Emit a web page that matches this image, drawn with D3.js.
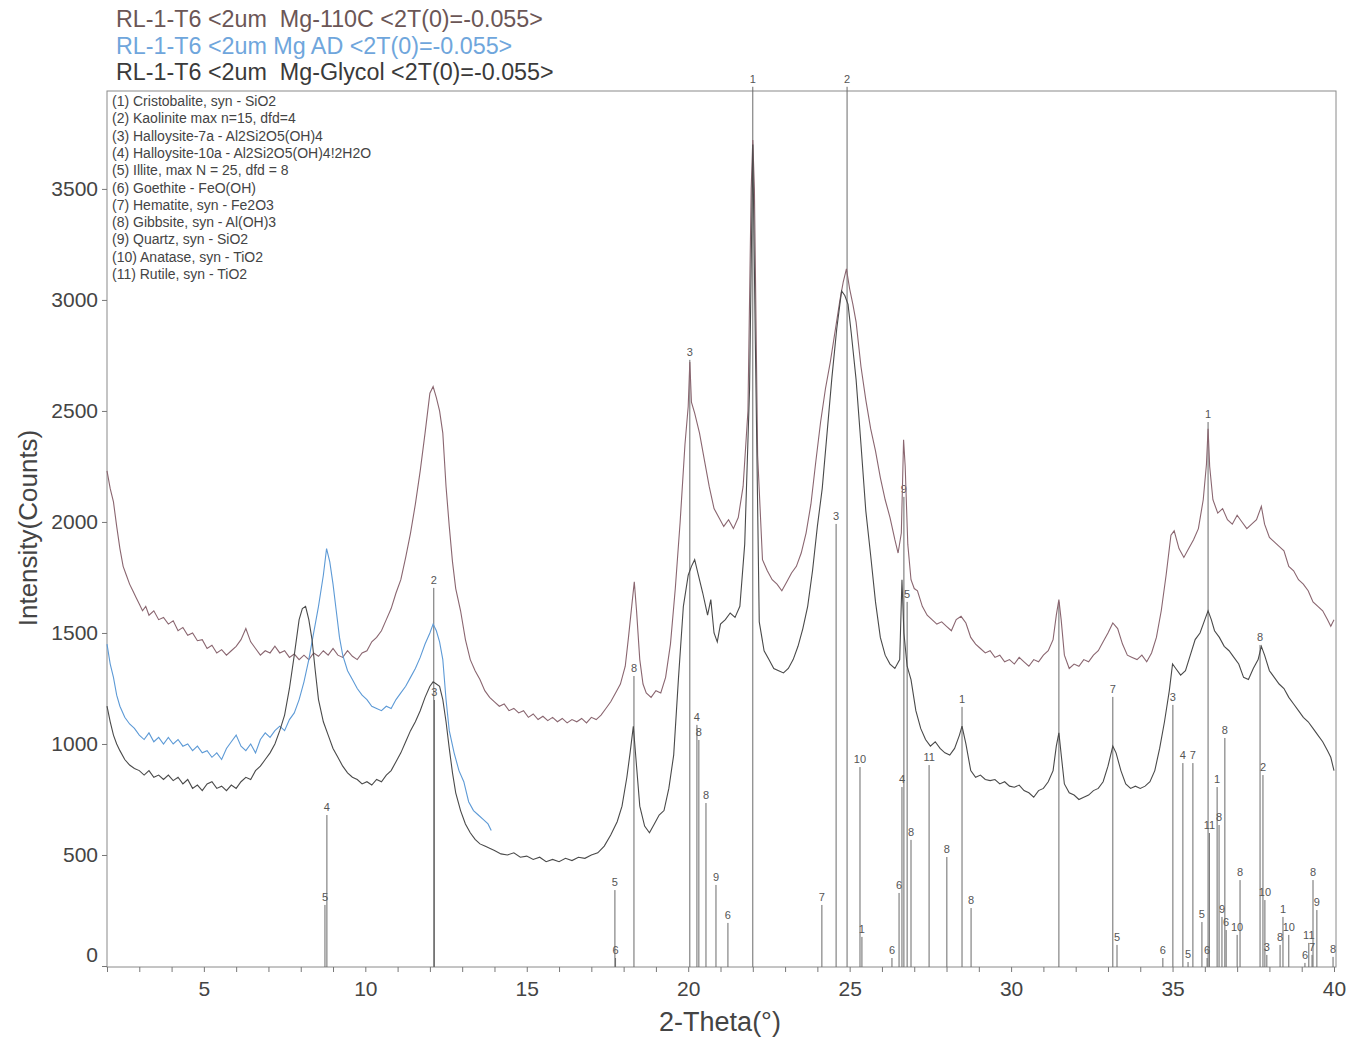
<!DOCTYPE html>
<html>
<head>
<meta charset="utf-8">
<script src="https://cdn.jsdelivr.net/npm/d3@7"></script>
<style>
  body { margin: 0; background: #fff; }
  text { font-family: "Liberation Sans", Arial, sans-serif; }
</style>
</head>
<body>
<svg id="chart" width="1350" height="1039"></svg>
<script>
// scan titles (one per pattern)
var titles = ["RL-1-T6 <2um  Mg-110C <2T(0)=-0.055>", "RL-1-T6 <2um Mg AD <2T(0)=-0.055>", "RL-1-T6 <2um  Mg-Glycol <2T(0)=-0.055>"];
var phases = ["(1) Cristobalite, syn - SiO2", "(2) Kaolinite max n=15, dfd=4", "(3) Halloysite-7a - Al2Si2O5(OH)4",
  "(4) Halloysite-10a - Al2Si2O5(OH)4!2H2O", "(5) Illite, max N = 25, dfd = 8", "(6) Goethite - FeO(OH)",
  "(7) Hematite, syn - Fe2O3", "(8) Gibbsite, syn - Al(OH)3", "(9) Quartz, syn - SiO2", "(10) Anatase, syn - TiO2", "(11) Rutile, syn - TiO2"];
var yTicks = [0, 500, 1000, 1500, 2000, 2500, 3000, 3500];
var xTicks = [5, 10, 15, 20, 25, 30, 35, 40];

// Mg-110C pattern (2theta, counts)
var heat = [[2.0,2230],[2.1,2150],[2.2,2090],[2.3,1980],[2.4,1880],[2.5,1800],[2.6,1760],[2.7,1720],[2.8,1690],[2.9,1660],
[3.0,1630],[3.1,1600],[3.2,1620],[3.3,1580],[3.45,1600],[3.6,1560],[3.75,1570],[3.9,1540],[4.05,1555],[4.2,1510],
[4.35,1525],[4.5,1490],[4.65,1500],[4.8,1465],[4.95,1470],[5.1,1430],[5.25,1445],[5.4,1410],[5.55,1425],[5.7,1400],
[5.85,1420],[6.0,1440],[6.15,1470],[6.3,1520],[6.45,1460],[6.6,1430],[6.75,1400],[6.9,1420],[7.05,1410],[7.2,1440],
[7.35,1410],[7.5,1420],[7.65,1390],[7.8,1405],[7.95,1380],[8.1,1400],[8.25,1380],[8.4,1410],[8.55,1395],[8.7,1420],
[8.85,1400],[9.0,1430],[9.15,1400],[9.3,1390],[9.45,1420],[9.6,1395],[9.75,1380],[9.9,1410],[10.05,1420],[10.2,1460],
[10.35,1480],[10.5,1510],[10.65,1560],[10.8,1610],[10.95,1680],[11.1,1740],[11.25,1840],[11.4,1950],[11.55,2080],[11.7,2230],
[11.85,2400],[12.0,2580],[12.1,2610],[12.2,2560],[12.3,2500],[12.4,2400],[12.5,2160],[12.6,1980],[12.7,1820],[12.8,1700],
[12.95,1600],[13.1,1470],[13.25,1380],[13.4,1330],[13.55,1290],[13.7,1240],[13.85,1210],[14.0,1190],[14.15,1170],[14.3,1180],
[14.45,1150],[14.6,1160],[14.75,1140],[14.9,1150],[15.05,1120],[15.2,1135],[15.35,1110],[15.5,1125],[15.65,1105],[15.8,1120],
[15.95,1100],[16.1,1115],[16.25,1095],[16.4,1110],[16.55,1100],[16.7,1115],[16.85,1095],[17.0,1120],[17.15,1110],[17.3,1130],
[17.45,1160],[17.6,1190],[17.75,1230],[17.9,1270],[18.05,1350],[18.15,1480],[18.25,1620],[18.33,1730],[18.4,1600],[18.5,1380],
[18.6,1270],[18.7,1230],[18.85,1210],[19.0,1240],[19.15,1230],[19.3,1300],[19.45,1450],[19.6,1700],[19.75,2000],[19.9,2350],
[20.0,2520],[20.05,2720],[20.1,2540],[20.2,2490],[20.35,2400],[20.5,2280],[20.65,2160],[20.8,2060],[20.95,2020],[21.1,1980],
[21.25,2010],[21.4,1970],[21.55,2020],[21.7,2160],[21.85,2500],[21.95,3500],[22.0,3720],[22.05,3500],[22.15,2300],[22.3,1830],
[22.45,1780],[22.6,1740],[22.75,1720],[22.9,1690],[23.05,1730],[23.2,1770],[23.35,1800],[23.5,1860],[23.65,1950],[23.8,2080],
[23.95,2270],[24.1,2450],[24.25,2600],[24.4,2720],[24.55,2860],[24.7,3000],[24.8,3080],[24.9,3140],[25.0,3050],[25.1,2980],
[25.2,2900],[25.35,2700],[25.5,2550],[25.65,2420],[25.8,2320],[25.95,2200],[26.1,2100],[26.25,2020],[26.4,1920],[26.5,1860],
[26.6,1950],[26.67,2370],[26.72,2250],[26.8,1900],[26.9,1740],[27.0,1700],[27.1,1690],[27.25,1620],[27.4,1580],[27.55,1560],
[27.7,1540],[27.85,1550],[28.0,1530],[28.15,1510],[28.3,1560],[28.45,1575],[28.6,1545],[28.75,1480],[28.9,1450],[29.05,1430],
[29.2,1410],[29.35,1420],[29.5,1390],[29.65,1400],[29.8,1370],[29.95,1380],[30.1,1360],[30.25,1390],[30.4,1370],[30.55,1350],
[30.7,1380],[30.85,1370],[31.0,1400],[31.15,1420],[31.3,1470],[31.4,1580],[31.48,1650],[31.55,1560],[31.65,1400],[31.8,1340],
[31.95,1360],[32.1,1350],[32.25,1380],[32.4,1370],[32.55,1400],[32.7,1420],[32.85,1460],[33.0,1500],[33.15,1545],[33.3,1520],
[33.45,1450],[33.6,1400],[33.75,1390],[33.9,1380],[34.05,1400],[34.2,1370],[34.35,1410],[34.5,1480],[34.65,1600],[34.8,1760],
[34.95,1940],[35.05,1960],[35.2,1880],[35.35,1840],[35.5,1880],[35.65,1920],[35.8,1970],[35.95,2100],[36.05,2260],[36.1,2420],
[36.15,2250],[36.25,2100],[36.4,2040],[36.55,2060],[36.7,2010],[36.85,1990],[37.0,2030],[37.15,2000],[37.3,1970],[37.45,1990],
[37.6,2010],[37.75,2070],[37.85,1990],[38.0,1930],[38.15,1910],[38.3,1890],[38.45,1870],[38.6,1800],[38.75,1780],[38.9,1740],
[39.05,1720],[39.2,1690],[39.35,1640],[39.5,1620],[39.65,1600],[39.8,1560],[39.9,1530],[40.0,1560]];

// Mg AD pattern, scanned only to ~14 deg
var airDry = [[2.0,1450],[2.1,1360],[2.2,1300],[2.3,1220],[2.4,1170],[2.55,1120],[2.7,1090],[2.85,1070],[3.0,1040],[3.15,1020],
[3.3,1050],[3.45,1010],[3.6,1030],[3.75,1000],[3.9,1030],[4.05,1000],[4.2,1020],[4.35,990],[4.5,1000],[4.65,970],
[4.8,990],[4.95,960],[5.1,970],[5.25,940],[5.4,960],[5.55,930],[5.7,980],[5.85,1010],[6.0,1040],[6.15,990],
[6.3,970],[6.45,1000],[6.6,960],[6.75,1020],[6.9,1050],[7.05,1030],[7.2,1060],[7.35,1080],[7.5,1060],[7.65,1110],
[7.8,1140],[7.95,1200],[8.1,1280],[8.25,1380],[8.4,1500],[8.55,1620],[8.7,1760],[8.8,1880],[8.9,1820],[9.0,1720],
[9.1,1600],[9.2,1480],[9.3,1400],[9.45,1330],[9.6,1290],[9.75,1250],[9.9,1220],[10.05,1200],[10.2,1170],[10.35,1160],
[10.5,1150],[10.65,1170],[10.8,1160],[10.95,1200],[11.1,1230],[11.25,1260],[11.4,1300],[11.55,1340],[11.7,1390],[11.85,1450],
[12.0,1500],[12.1,1540],[12.2,1510],[12.3,1460],[12.4,1380],[12.5,1200],[12.6,1060],[12.75,960],[12.9,880],[13.05,830],
[13.2,740],[13.35,700],[13.5,680],[13.65,660],[13.8,640],[13.9,610]];

// Mg-Glycol pattern
var glycol = [[2.0,1170],[2.1,1100],[2.2,1040],[2.3,1000],[2.4,970],[2.55,930],[2.7,905],[2.85,890],[3.0,880],[3.15,860],
[3.3,880],[3.45,850],[3.6,860],[3.75,840],[3.9,860],[4.05,835],[4.2,850],[4.35,820],[4.5,840],[4.65,800],
[4.8,815],[4.95,790],[5.1,820],[5.25,830],[5.4,800],[5.55,810],[5.7,790],[5.85,815],[6.0,800],[6.15,830],
[6.3,850],[6.45,840],[6.6,880],[6.75,900],[6.9,930],[7.05,960],[7.2,1000],[7.35,1060],[7.5,1130],[7.65,1250],
[7.8,1400],[7.95,1560],[8.05,1610],[8.15,1620],[8.25,1560],[8.35,1470],[8.45,1330],[8.55,1200],[8.7,1100],[8.85,1040],
[9.0,980],[9.15,940],[9.3,900],[9.45,870],[9.6,850],[9.75,840],[9.9,820],[10.05,830],[10.2,815],[10.35,840],
[10.5,830],[10.65,860],[10.8,880],[10.95,920],[11.1,960],[11.25,1010],[11.4,1060],[11.55,1100],[11.7,1150],[11.85,1210],
[12.0,1260],[12.1,1280],[12.2,1270],[12.3,1260],[12.4,1200],[12.5,1100],[12.6,980],[12.7,870],[12.8,780],[12.95,700],
[13.1,640],[13.25,600],[13.4,570],[13.55,550],[13.7,540],[13.85,530],[14.0,520],[14.2,505],[14.4,500],[14.6,510],
[14.8,490],[15.0,495],[15.2,480],[15.4,490],[15.6,470],[15.8,480],[16.0,470],[16.2,485],[16.4,475],[16.6,490],
[16.8,485],[17.0,500],[17.2,510],[17.4,540],[17.6,590],[17.8,650],[17.95,720],[18.1,850],[18.2,960],[18.3,1080],
[18.4,900],[18.5,720],[18.65,630],[18.8,600],[18.95,640],[19.1,680],[19.25,700],[19.4,800],[19.55,950],[19.7,1300],
[19.85,1620],[20.0,1760],[20.1,1800],[20.2,1830],[20.3,1770],[20.45,1680],[20.6,1580],[20.7,1650],[20.8,1500],[20.9,1460],
[21.0,1540],[21.15,1560],[21.3,1590],[21.45,1570],[21.6,1620],[21.75,1900],[21.9,2600],[22.0,3700],[22.08,2800],[22.2,1550],
[22.35,1420],[22.5,1380],[22.65,1340],[22.8,1330],[22.95,1320],[23.1,1340],[23.25,1380],[23.4,1440],[23.55,1520],[23.7,1620],
[23.85,1780],[24.0,1980],[24.15,2150],[24.3,2400],[24.45,2650],[24.6,2870],[24.75,3040],[24.85,3020],[24.95,2980],[25.05,2850],
[25.2,2640],[25.35,2350],[25.5,2050],[25.65,1850],[25.8,1640],[25.95,1480],[26.1,1400],[26.25,1360],[26.4,1340],[26.55,1380],
[26.62,1740],[26.68,1500],[26.78,1350],[26.9,1290],[27.05,1150],[27.2,1070],[27.35,1020],[27.5,990],[27.65,1010],[27.8,980],
[27.95,960],[28.1,950],[28.25,980],[28.4,1040],[28.48,1080],[28.6,1000],[28.75,880],[28.9,850],[29.05,860],[29.2,840],
[29.35,835],[29.5,840],[29.65,820],[29.8,830],[29.95,810],[30.1,805],[30.25,815],[30.4,790],[30.55,780],[30.7,760],
[30.85,790],[31.0,800],[31.15,830],[31.3,880],[31.4,990],[31.48,1050],[31.56,940],[31.65,820],[31.8,780],[31.95,770],
[32.1,750],[32.25,760],[32.4,770],[32.55,790],[32.7,800],[32.85,830],[33.0,900],[33.15,990],[33.25,960],[33.4,880],
[33.55,820],[33.7,800],[33.85,810],[34.0,800],[34.15,810],[34.3,830],[34.45,880],[34.6,980],[34.75,1100],[34.9,1240],
[35.0,1360],[35.1,1340],[35.25,1310],[35.4,1330],[35.55,1400],[35.7,1470],[35.85,1500],[36.0,1560],[36.1,1600],[36.2,1560],
[36.3,1510],[36.45,1480],[36.6,1440],[36.75,1420],[36.9,1390],[37.05,1360],[37.2,1300],[37.35,1290],[37.5,1340],[37.65,1380],
[37.75,1440],[37.85,1400],[38.0,1330],[38.15,1300],[38.3,1270],[38.45,1250],[38.6,1210],[38.75,1180],[38.9,1150],[39.05,1120],
[39.2,1100],[39.35,1070],[39.5,1040],[39.65,1010],[39.8,970],[39.9,940],[40.0,880]];

// reference stick pattern: position, height (counts), phase number
var stickPos = [8.75, 8.81, 12.12, 12.14, 17.73, 17.75, 18.32, 20.05, 20.27, 20.33, 20.55, 20.86, 21.23, 22.0, 24.14, 24.58, 24.92,
  25.32, 25.38, 26.31, 26.53, 26.62, 26.68, 26.78, 26.9, 27.46, 28.01, 28.48, 28.76, 31.48, 33.15, 33.28, 34.7, 35.01,
  35.32, 35.48, 35.63, 35.91, 36.07, 36.1, 36.14, 36.38, 36.44, 36.53, 36.62, 36.66, 37.0, 37.09, 37.71, 37.8, 37.86,
  37.92, 38.33, 38.42, 38.6, 39.1, 39.22, 39.32, 39.35, 39.47, 39.97];
var stickVal = [275, 680, 1703, 1198, 342, 36, 1306, 2730, 1086, 1018, 734, 365, 194, 3960, 275, 1991, 3960,
  896, 131, 36, 329, 806, 2113, 1640, 568, 905, 491, 1167, 261, 1640, 1212, 95, 36, 1176,
  914, 18, 914, 198, 36, 2450, 599, 806, 635, 221, 1027, 162, 140, 387, 1446, 860, 297,
  50, 95, 221, 140, 14, 104, 50, 387, 252, 41];
var stickLab = ["5", "4", "2", "3", "5", "6", "8", "3", "4", "8", "8", "9", "6", "1", "7", "3", "2",
  "10", "1", "6", "6", "4", "9", "5", "8", "11", "8", "1", "8", "", "7", "5", "6", "3",
  "4", "5", "7", "5", "6", "1", "11", "1", "8", "9", "8", "6", "10", "8", "8", "2", "10",
  "3", "8", "1", "10", "6", "11", "7", "8", "9", "8"];

drawChart();

function drawChart() {
	var svg = d3.select("#chart");
	var pLeft = 107, pRight = 1336, pTop = 91, pBottom = 967;

	var x = d3.scaleLinear().domain([2, 40]).range([pLeft, 1334]);
	var y = d3.scaleLinear().domain([-4.5, 3941]).range([pBottom, pTop]);

	// titles
	var titleCol = ["#6b5656", "#6fa6dc", "#3a3a3a"];
	titles.forEach(function(t, i) {
		svg.append("text").attr("x", 116).attr("y", 27 + i * 26.5).attr("font-size", "23.3px")
		.style("white-space", "pre").attr("fill", titleCol[i]).text(t);
	});

	// frame
	svg.append("rect").attr("x", pLeft).attr("y", pTop).attr("width", pRight - pLeft).attr("height", pBottom - pTop)
		.attr("fill", "none").attr("stroke", "#8a8a8a").attr("stroke-width", 1);

	// phase list
	phases.forEach(function(p, i) {
		svg.append("text").attr("x", 112).attr("y", 106 + i * 17.3).attr("font-size", "14px")
		.attr("fill", "#444").text(p);
	});

	// sticks
	var sticks = stickPos.map(function(d, i) { return { pos: d, val: stickVal[i], lab: stickLab[i] }; });
	svg.append("g").selectAll("line").data(sticks).join("line")
		.attr("x1", function(d) { return x(d.pos); }).attr("x2", function(d) { return x(d.pos); })
		.attr("y1", y(-4.5)).attr("y2", function(d) { return y(d.val); })
		.attr("stroke", "#6a6a6a").attr("stroke-width", 1);
	svg.append("g").selectAll("text").data(sticks).join("text")
		.attr("x", function(d) { return x(d.pos); }).attr("y", function(d) { return y(d.val) - 4; })
		.attr("text-anchor", "middle").attr("font-size", "11px").attr("fill", "#555")
		.text(function(d) { return d.lab; });

	// patterns
	var line = d3.line().x(function(d) { return x(d[0]); }).y(function(d) { return y(d[1]); });
	svg.append("path").datum(heat).attr("d", line).attr("fill", "none").attr("stroke", "#8a6670").attr("stroke-width", 1.1);
	svg.append("path").datum(airDry).attr("d", line).attr("fill", "none").attr("stroke", "#5d9ad6").attr("stroke-width", 1.1);
	svg.append("path").datum(glycol).attr("d", line).attr("fill", "none").attr("stroke", "#4a4a4a").attr("stroke-width", 1.1);

	// axes
	var yAxis = svg.append("g").attr("transform", "translate(" + pLeft + ",0)")
		.call(d3.axisLeft(y).tickValues(yTicks).tickSize(5).tickPadding(4).tickFormat(d3.format("d")));
	yAxis.select(".domain").remove();
	yAxis.selectAll("line").attr("stroke", "#777");
	yAxis.selectAll("text").attr("font-size", "21px").attr("fill", "#444")
		.attr("font-family", "Liberation Sans, Arial, sans-serif")
		.attr("dy", function(d) { return d === 0 ? "-0.2em" : "0.32em"; });

	var xAxis = svg.append("g").attr("transform", "translate(0," + pBottom + ")")
		.call(d3.axisBottom(x).tickValues(d3.range(2, 41)).tickSize(5)
		.tickFormat(function(d) { return xTicks.indexOf(d) >= 0 ? d : ""; }).tickPadding(9));
	xAxis.select(".domain").remove();
	xAxis.selectAll("line").attr("stroke", "#777");
	xAxis.selectAll("text").attr("font-size", "21px").attr("fill", "#444")
		.attr("font-family", "Liberation Sans, Arial, sans-serif");

	svg.append("text").attr("x", 720).attr("y", 1031).attr("text-anchor", "middle").attr("font-size", "27px")
		.attr("fill", "#444").text("2-Theta(°)");
	svg.append("text").attr("transform", "translate(37,528) rotate(-90)").attr("text-anchor", "middle")
		.attr("font-size", "26px").attr("fill", "#444").text("Intensity(Counts)");
}
</script>
</body>
</html>
